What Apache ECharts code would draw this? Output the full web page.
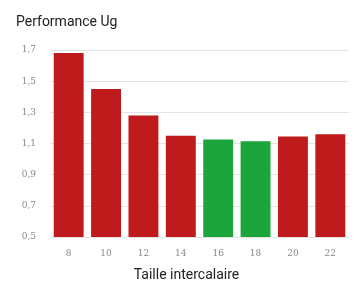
<!DOCTYPE html>
<html lang="fr">
<head>
    <meta charset="UTF-8">
    <title>Performance Ug</title>
    <script type="text/javascript" src="https://cdn.jsdelivr.net/npm/echarts@6/dist/echarts.min.js"></script>
    <style>
        html, body { margin: 0; padding: 0; background: #fff; }
    </style>
</head>
<body>
<div id="main" style="width: 355px;height:282px"></div>

<script type="text/javascript">
    var tailles = ['8', '10', '12', '14', '16', '18', '20', '22']
    var valeurs = [1.68, 1.45, 1.28, 1.15, 1.125, 1.115, 1.145, 1.16]
    var couleurs = ['#bf1a1c', '#bf1a1c', '#bf1a1c', '#bf1a1c', '#1ca53b', '#1ca53b', '#bf1a1c', '#bf1a1c']

    var myChart = echarts.init(document.getElementById('main'))

    var data = []
    for (var i = 0; i < valeurs.length; i++) {
        data.push({value: valeurs[i], itemStyle: {color: couleurs[i]}})
    }

    var option = {
        animation: false,
        title: {
            text: 'Performance Ug',
            left: 11,
            top: 10,
            textStyle: {fontFamily: 'Roboto', fontSize: 14, fontWeight: 'normal', color: '#222'}
        },
        grid: {left: 50, right: 6, top: 50, bottom: 45, outerBoundsMode: 'none'},
        xAxis: {
            type: 'category',
            data: tailles,
            name: 'Taille intercalaire',
            nameLocation: 'middle',
            nameGap: 31,
            nameTextStyle: {fontFamily: 'Roboto', fontSize: 14, color: '#222', padding: [0, 26, 0, 0]},
            axisLine: {show: false},
            axisTick: {show: false},
            axisLabel: {fontFamily: 'DejaVu Serif', fontSize: 9, color: '#888', margin: 12}
        },
        yAxis: {
            type: 'value',
            min: 0.5,
            max: 1.7,
            interval: 0.2,
            axisLabel: {
                fontFamily: 'DejaVu Serif', fontSize: 9, color: '#888', margin: 14,
                formatter: function (v) { return v.toFixed(1).replace('.', ',') }
            },
            splitLine: {lineStyle: {color: '#e4e4e4'}}
        },
        series: [{
            type: 'bar',
            data: data,
            barCategoryGap: '20%'
        }]
    }

    myChart.setOption(option)
</script>
</body>
</html>
